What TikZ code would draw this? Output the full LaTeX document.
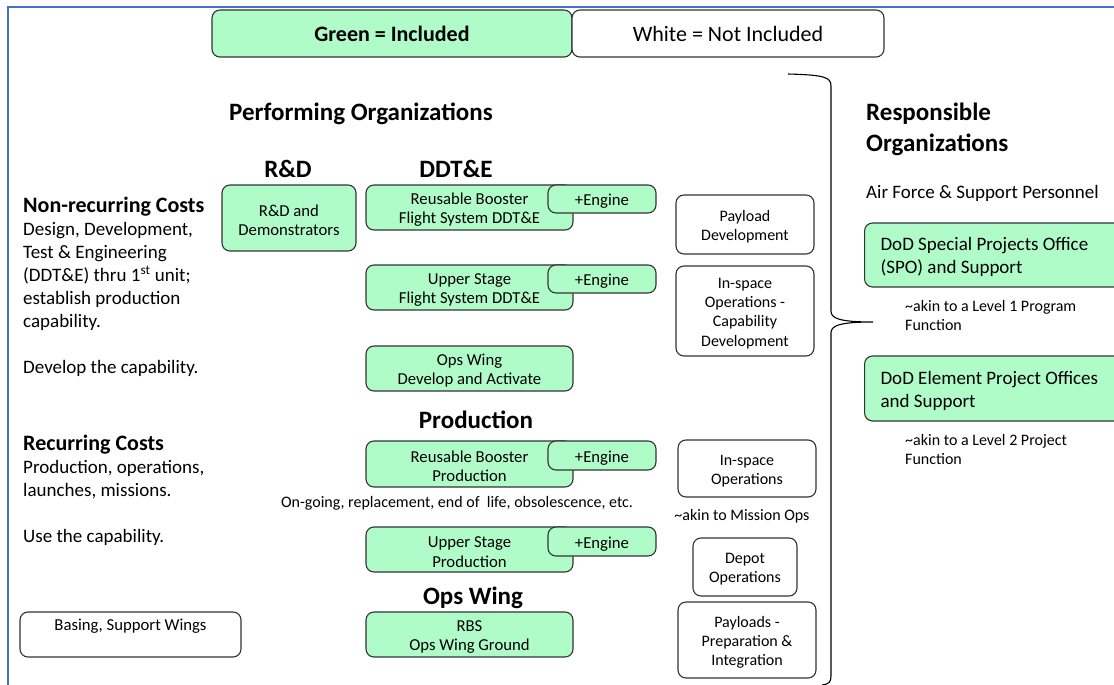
\documentclass[tikz,border=0pt]{standalone}
\usepackage{fontspec}
\setmainfont{Carlito}
\usetikzlibrary{positioning}
\definecolor{incgreen}{RGB}{176,252,200}
\definecolor{frameblue}{RGB}{68,114,196}
\begin{document}
\begin{tikzpicture}[x=1pt,y=-1pt,
    lift/.style={execute at begin node={\rule{0pt}{0.95em}}},
    base/.style={draw=black!80, line width=1.1pt, rounded corners=8pt, align=flush center, inner sep=0pt},
    inc/.style={base, fill=incgreen, lift, font=\fontsize{16.7}{19.5}\selectfont},
    exc/.style={base, fill=white, lift, font=\fontsize{16}{19.2}\selectfont},
    head/.style={font=\fontsize{25}{31}\selectfont\bfseries, inner sep=0pt},
    note/.style={font=\fontsize{16}{19}\selectfont, inner sep=0pt, align=left},
    body/.style={font=\fontsize{19}{23}\selectfont, inner sep=0pt, align=left}]
    \useasboundingbox (0,0) rectangle (1114,685);
    \clip (0,0) rectangle (1114,685);
    \draw[frameblue, line width=2pt] (8,690) -- (8,7) -- (1120,7);

    \node[base, fill=incgreen, minimum width=360pt, minimum height=47pt, font=\fontsize{22}{26}\selectfont\bfseries] (green) at (392,33.5) {Green = Included};
    \node[base, fill=white, minimum width=312pt, minimum height=47pt, font=\fontsize{22}{26}\selectfont] (white) at (728,33.5) {White = Not Included};

    \node[head] (perf) at (361,113.5) {Performing Organizations};
    \node[head] (rdhead) at (288,168.5) {R\&D};
    \node[head] (ddte) at (456,168.5) {DDT\&E};
    \node[head] (prodhead) at (476,420) {Production};
    \node[head] (opshead) at (473,597.5) {Ops Wing};

    \node[body, anchor=north west] (nonrec) at (23,196.5) {{\fontsize{22}{23}\selectfont\bfseries Non-recurring Costs}\\ Design, Development,\\ Test \& Engineering\\ (DDT\&E) thru 1\textsuperscript{st} unit;\\ establish production\\ capability.\\[23pt] Develop the capability.};
    \node[body, anchor=north west] (rec) at (23,435) {{\fontsize{22}{23}\selectfont\bfseries Recurring Costs}\\ Production, operations,\\ launches, missions.\\[23pt] Use the capability.};

    \node[inc, text width=134pt, minimum height=66pt] (rd) at (289,218) {R\&D and\\Demonstrators};
    \node[inc, text width=207pt, minimum height=45pt] (rbddte) at (469.5,207.5) {Reusable Booster\\Flight System DDT\&E};
    \node[inc, text width=108pt, minimum height=28pt] (eng1) at (602,199) {+Engine};
    \node[inc, text width=207pt, minimum height=45pt] (usddte) at (469.5,287.5) {Upper Stage\\Flight System DDT\&E};
    \node[inc, text width=108pt, minimum height=28pt] (eng2) at (602,279) {+Engine};
    \node[inc, text width=207pt, minimum height=45pt] (opsdev) at (469.5,368.5) {Ops Wing\\Develop and Activate};
    \node[inc, text width=207pt, minimum height=46pt] (rbprod) at (469.5,464) {Reusable Booster\\Production};
    \node[inc, text width=108pt, minimum height=29pt] (eng3) at (602,455.5) {+Engine};
    \node[note, lift, align=center] (ongoing) at (457,501) {On-going, replacement, end of\ \ life, obsolescence, etc.};
    \node[inc, text width=207pt, minimum height=45pt] (usprod) at (469.5,549.5) {Upper Stage\\Production};
    \node[inc, text width=108pt, minimum height=29pt] (eng4) at (602,541.5) {+Engine};
    \node[inc, text width=207pt, minimum height=45pt] (rbs) at (469.5,634.5) {RBS\\Ops Wing Ground};
    \node[base, fill=white, minimum width=221pt, minimum height=45pt, font=\fontsize{16.7}{19.5}\selectfont] (basing) at (130.5,634.5) {Basing, Support Wings\\ \mbox{}};

    \node[exc, text width=138pt, minimum height=59pt] (pld) at (745,224.5) {Payload\\Development};
    \node[exc, text width=138pt, minimum height=90pt] (iscap) at (745,311) {In-space\\Operations -\\Capability\\Development};
    \node[exc, text width=138pt, minimum height=57pt] (isops) at (747,468.5) {In-space\\Operations};
    \node[note, lift, align=center] (mission) at (742,514) {\textasciitilde akin to Mission Ops};
    \node[exc, text width=104pt, minimum height=58pt] (depot) at (745,567) {Depot\\Operations};
    \node[exc, text width=138pt, minimum height=76pt] (pprep) at (747,640) {Payloads -\\Preparation \&\\Integration};

    \draw[line width=1.1pt] (788,74) .. controls (824,75) and (831,77) .. (831,86) -- (831,311) .. controls (831,318) and (838,322) .. (873,322) .. controls (838,322) and (831,326) .. (831,333) -- (831,676) .. controls (831,682) and (829,684) .. (822,685);

    \node[head, anchor=west, align=left] (resp) at (866,129) {Responsible\\Organizations};
    \node[body, anchor=west, lift] (airforce) at (866,191) {Air Force \& Support Personnel};
    \node[inc, anchor=west, minimum height=64pt, text width=234pt, inner xsep=16pt, align=flush left, font=\fontsize{19}{23}\selectfont] (spo) at (864,255) {DoD Special Projects Office\\(SPO) and Support};
    \node[note, anchor=west] (lvl1) at (905,315.5) {\textasciitilde akin to a Level 1 Program\\Function};
    \node[inc, anchor=west, minimum height=65pt, text width=234pt, inner xsep=16pt, align=flush left, font=\fontsize{19}{23}\selectfont] (epo) at (864,388.5) {DoD Element Project Offices\\and Support};
    \node[note, anchor=west] (lvl2) at (905,449.5) {\textasciitilde akin to a Level 2 Project\\Function};
\end{tikzpicture}
\end{document}
